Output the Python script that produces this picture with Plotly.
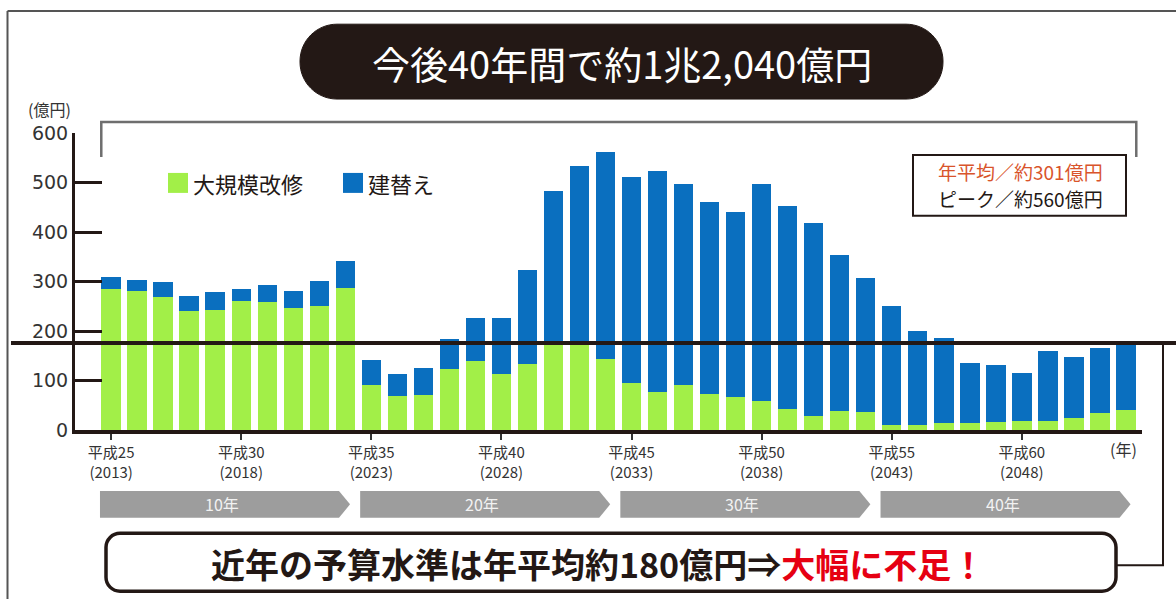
import plotly.graph_objects as go

# ---------------- data ----------------
years = list(range(2013, 2053))
renovation = [284, 281, 269, 241, 243, 261, 258, 247, 250, 286,
              90, 69, 71, 124, 140, 113, 134, 172, 172, 144,
              95, 77, 90, 73, 67, 58, 43, 28, 38, 36,
              11, 10, 14, 14, 17, 19, 19, 25, 35, 41]
rebuild = [25, 23, 30, 30, 36, 23, 35, 34, 51, 55,
           52, 44, 55, 59, 87, 114, 190, 311, 362, 417,
           417, 447, 407, 387, 373, 439, 409, 390, 316, 271,
           239, 191, 171, 122, 115, 97, 141, 123, 130, 131]
tick_years = [2013, 2018, 2023, 2028, 2033, 2038, 2043, 2048]
tick_labels = ["平成25<br>(2013)", "平成30<br>(2018)", "平成35<br>(2023)", "平成40<br>(2028)",
               "平成45<br>(2033)", "平成50<br>(2038)", "平成55<br>(2043)", "平成60<br>(2048)"]
y_ticks = [0, 100, 200, 300, 400, 500, 600]
period_labels = ["10年", "20年", "30年", "40年"]
budget_level = 176   # 近年の予算水準 (約180億円)

series_names = ["大規模改修", "建替え"]
GREEN = "#a2ef48"
BLUE = "#0a6fbf"
DARK = "#231815"
FONT = "Noto Sans CJK JP"

# ---------------- geometry helpers ----------------
W, H = 1176, 599
L, R, T, B = 75, 1142, 133, 430.5
XR = [2013 - 1.39, 2013 + 39.62]
YR = [0, 600]


def px(x):
    return (x - L) / (R - L)


def py(y):
    return (B - y) / (B - T)


def xdata_to_pix(x):
    return L + (x - XR[0]) / (XR[1] - XR[0]) * (R - L)


def pt(x, y):
    return f"{px(x):.5f},{py(y):.5f}"


def rrect_path(x0, y0, x1, y1, r):
    k = 0.5523 * r
    return (f"M{pt(x0 + r, y0)} L{pt(x1 - r, y0)} "
            f"C{pt(x1 - r + k, y0)} {pt(x1, y0 + r - k)} {pt(x1, y0 + r)} "
            f"L{pt(x1, y1 - r)} "
            f"C{pt(x1, y1 - r + k)} {pt(x1 - r + k, y1)} {pt(x1 - r, y1)} "
            f"L{pt(x0 + r, y1)} "
            f"C{pt(x0 + r - k, y1)} {pt(x0, y1 - r + k)} {pt(x0, y1 - r)} "
            f"L{pt(x0, y0 + r)} "
            f"C{pt(x0, y0 + r - k)} {pt(x0 + r - k, y0)} {pt(x0 + r, y0)} Z")


fig = go.Figure()
fig.add_trace(go.Bar(x=years, y=renovation, name=series_names[0],
                     marker=dict(color=GREEN, line=dict(width=0))))
fig.add_trace(go.Bar(x=years, y=rebuild, name=series_names[1],
                     marker=dict(color=BLUE, line=dict(width=0))))

shapes = []
annotations = []

# outer frame (left + top)
shapes.append(dict(type="line", xref="paper", yref="paper",
                   x0=px(7.5), y0=py(10.7), x1=px(7.5), y1=py(605),
                   line=dict(color="#555555", width=2)))
shapes.append(dict(type="line", xref="paper", yref="paper",
                   x0=px(7.5), y0=py(10.7), x1=px(1180), y1=py(10.7),
                   line=dict(color="#555555", width=2)))

# title pill
shapes.append(dict(type="path", xref="paper", yref="paper",
                   path=rrect_path(300, 24, 943, 99, 37),
                   fillcolor=DARK, line=dict(color=DARK, width=1)))
annotations.append(dict(xref="paper", yref="paper", x=px(622), y=py(62),
                        text="今後40年間で約1兆2,040億円", showarrow=False,
                        font=dict(family=FONT, size=38, color="white"),
                        xanchor="center", yanchor="middle"))

# bracket over whole period
bx0 = xdata_to_pix(years[0] - 0.38)
bx1 = xdata_to_pix(years[-1] + 0.4)
shapes.append(dict(type="path", xref="paper", yref="paper",
                   path=f"M{pt(bx0, 157)} L{pt(bx0, 122)} L{pt(bx1, 122)} L{pt(bx1, 157)}",
                   line=dict(color="#6e6e6e", width=2.5)))

# unit label
annotations.append(dict(xref="paper", yref="paper", x=px(49), y=py(109),
                        text="(億円)", showarrow=False,
                        font=dict(family=FONT, size=16, color="#333333"),
                        xanchor="center", yanchor="middle"))

# legend (custom)
for (sx, color, name) in [(168, GREEN, series_names[0]), (343, BLUE, series_names[1])]:
    shapes.append(dict(type="rect", xref="paper", yref="paper",
                       x0=px(sx), y0=py(173), x1=px(sx + 20), y1=py(193),
                       fillcolor=color, line=dict(width=0)))
    annotations.append(dict(xref="paper", yref="paper", x=px(sx + 23), y=py(183),
                            text=name, showarrow=False,
                            font=dict(family=FONT, size=22, color=DARK),
                            xanchor="left", yanchor="middle"))

# info box
shapes.append(dict(type="rect", xref="paper", yref="paper",
                   x0=px(913), y0=py(155), x1=px(1126), y1=py(216),
                   fillcolor="white", line=dict(color=DARK, width=2)))
annotations.append(dict(xref="paper", yref="paper", x=px(1020), y=py(172),
                        text="年平均／約301億円", showarrow=False,
                        font=dict(family=FONT, size=19, color="#d9542b"),
                        xanchor="center", yanchor="middle"))
annotations.append(dict(xref="paper", yref="paper", x=px(1020), y=py(199),
                        text="ピーク／約560億円", showarrow=False,
                        font=dict(family=FONT, size=19, color=DARK),
                        xanchor="center", yanchor="middle"))

# budget level line
by = B - (budget_level - YR[0]) / (YR[1] - YR[0]) * (B - T)
shapes.append(dict(type="line", xref="paper", yref="paper",
                   x0=px(11), y0=py(by), x1=px(1180), y1=py(by),
                   line=dict(color=DARK, width=4)))
# connector to bottom box
shapes.append(dict(type="path", xref="paper", yref="paper",
                   path=f"M{pt(1163, by)} L{pt(1163, 566)} L{pt(1116, 566)}",
                   line=dict(color=DARK, width=2)))

# period arrows
for i, lab in enumerate(period_labels):
    x0 = xdata_to_pix(years[10 * i] - 0.43)
    x1 = xdata_to_pix(years[10 * i + 9] + 0.18)
    tip = 11
    path = (f"M{pt(x0, 491.5)} L{pt(x1 - tip, 491.5)} L{pt(x1, 505)} "
            f"L{pt(x1 - tip, 518.5)} L{pt(x0, 518.5)} Z")
    shapes.append(dict(type="path", xref="paper", yref="paper", path=path,
                       fillcolor="#9d9d9d", line=dict(width=0)))
    annotations.append(dict(xref="paper", yref="paper", x=px((x0 + x1) / 2 - 3), y=py(505),
                            text=lab, showarrow=False,
                            font=dict(family=FONT, size=16, color="#f2f2f2"),
                            xanchor="center", yanchor="middle"))

# bottom message box
shapes.append(dict(type="path", xref="paper", yref="paper",
                   path=rrect_path(106, 534, 1116, 592, 14),
                   fillcolor="white", line=dict(color=DARK, width=3.5)))
annotations.append(dict(xref="paper", yref="paper", x=px(598), y=py(564),
                        text="<b>近年の予算水準は年平均約180億円⇒<span style='color:#e60012'>大幅に不足！</span></b>",
                        showarrow=False,
                        font=dict(family=FONT, size=34, color=DARK),
                        xanchor="center", yanchor="middle"))

# (年)
annotations.append(dict(xref="paper", yref="paper", x=px(1123), y=py(450),
                        text="(年)", showarrow=False,
                        font=dict(family=FONT, size=16, color="#333333"),
                        xanchor="center", yanchor="middle"))

fig.update_layout(
    width=W, height=H,
    margin=dict(l=L, r=W - R, t=T, b=H - B, pad=0),
    barmode="stack", bargap=0.25,
    showlegend=False,
    plot_bgcolor="white", paper_bgcolor="white",
    shapes=shapes, annotations=annotations,
    xaxis=dict(range=XR, tickmode="array", tickvals=tick_years, ticktext=tick_labels,
               ticks="outside", ticklen=6, tickwidth=1.5, tickcolor="#333333",
               tickfont=dict(family=FONT, size=15, color="#333333"),
               showline=True, linewidth=4, linecolor=DARK,
               showgrid=False, zeroline=False, tickangle=0),
    yaxis=dict(range=YR, tickmode="array", tickvals=y_ticks,
               ticks="inside", ticklen=27, tickwidth=3, tickcolor=DARK,
               tickfont=dict(family="DejaVu Sans", size=19, color="#333333"),
               showline=True, linewidth=3, linecolor=DARK,
               showgrid=False, zeroline=False),
)

fig.write_html("out.html", config={"displayModeBar": False},
               post_script="document.body.style.margin='0';")
